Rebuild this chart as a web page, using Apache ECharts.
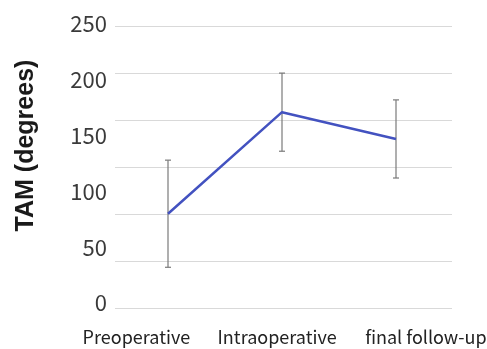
<!DOCTYPE html>
<html><head><meta charset="utf-8">
<script src="https://cdn.jsdelivr.net/npm/echarts@6/dist/echarts.min.js"></script>
<style>html,body{margin:0;padding:0;background:#fff}#c{width:487px;height:349px}</style>
</head><body><div id="c"></div>
<script>
const categories = ['Preoperative', 'Intraoperative', 'final follow-up'];
const meanTAM = [80, 171, 147];
const sdTAM = [48, 35, 35];
const yTicks = [0, 50, 100, 150, 200, 250];
const gridLineSteps = [0, 1, 2, 3, 4, 5, 6];

const FONT = '"Noto Sans CJK JP", "Noto Sans", sans-serif';
const chart = echarts.init(document.getElementById('c'), null, {renderer: 'canvas'});
const errData = categories.map((c, i) => [i, meanTAM[i] - sdTAM[i], meanTAM[i] + sdTAM[i]]);

chart.setOption({
  animation: false,
  backgroundColor: '#fff',
  grid: [
    {left: 111, right: 34, top: 24, bottom: 46},
    {left: 115, right: 35, top: 26, bottom: 41},
    {left: 68, width: 426, top: 26, bottom: 41}
  ],
  xAxis: [
    {gridIndex: 0, type: 'category', data: categories, boundaryGap: true,
     axisLine: {show: false}, axisTick: {show: false}, axisLabel: {show: false}},
    {gridIndex: 1, type: 'value', min: 0, max: 1, show: false},
    {gridIndex: 2, type: 'category', data: categories,
     axisLine: {show: false}, axisTick: {show: false},
     axisLabel: {interval: 0, margin: 20, fontSize: 18, color: '#222', fontFamily: FONT,
       formatter: (v, i) => i === 2 ? '{r|' + v + '}' : (i === 1 ? '{m|' + v + '}' : v),
       rich: {
         r: {fontSize: 18, color: '#222', fontFamily: FONT, padding: [0, 0, 0, 32]},
         m: {fontSize: 18, color: '#222', fontFamily: FONT, padding: [0, 0, 0, 8]}
       }}}
  ],
  yAxis: [
    {gridIndex: 0, type: 'value', min: 0, max: 250, interval: 50,
     axisLine: {show: false}, axisTick: {show: false}, splitLine: {show: false},
     axisLabel: {margin: 4, fontSize: 22, color: '#3a3a3a', fontFamily: FONT,
       formatter: v => yTicks.includes(v) ? String(v) : ''},
     name: 'TAM (degrees)', nameLocation: 'middle', nameGap: 72, nameRotate: 90,
     nameTextStyle: {fontSize: 25, fontWeight: 'bold', color: '#1a1a1a',
       fontFamily: '"Liberation Sans", Arial, sans-serif', padding: [0, 0, 0, 36]}},
    {gridIndex: 1, type: 'value', min: 0, max: gridLineSteps.length - 1, interval: 1,
     axisLine: {show: false}, axisTick: {show: false}, axisLabel: {show: false},
     splitLine: {show: true, lineStyle: {color: '#d9d9d9', width: 1}}},
    {gridIndex: 2, type: 'value', show: false}
  ],
  series: [
    {type: 'custom', xAxisIndex: 0, yAxisIndex: 0, data: errData, z: 3,
     renderItem: function (params, api) {
       const x = api.coord([api.value(0), 0])[0];
       const lo = api.coord([api.value(0), api.value(1)])[1];
       const hi = api.coord([api.value(0), api.value(2)])[1];
       const w = 3;
       const st = {stroke: '#7a7a7a', lineWidth: 1.2};
       return {type: 'group', children: [
         {type: 'line', shape: {x1: x, y1: lo, x2: x, y2: hi}, style: st},
         {type: 'line', shape: {x1: x - w, y1: lo, x2: x + w, y2: lo}, style: st},
         {type: 'line', shape: {x1: x - w, y1: hi, x2: x + w, y2: hi}, style: st}
       ]};
     }},
    {type: 'line', xAxisIndex: 0, yAxisIndex: 0, data: meanTAM, z: 4,
     symbol: 'none', lineStyle: {color: '#4352c0', width: 2.5}}
  ]
});
</script></body></html>
